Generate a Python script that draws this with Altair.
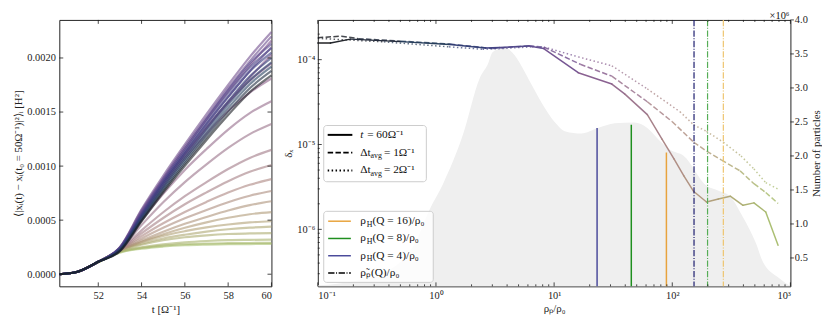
import altair as alt
import numpy as np
import pandas as pd

SERIF = "Liberation Serif"
INK = "#1a1a1a"

# ---------------- left panel: mean squared displacement curves ----------------
T = [50.2, 51, 52, 53, 54, 55, 56, 57, 58, 59, 60]
# log10(rho_p/rho_0) of the density bin each curve belongs to
CURVE_LR = [2.9, 2.8, 2.7, 2.6, 2.5, 2.4, 2.3, 2.2, 2.1, 2.0, 1.9, 1.8, 1.7, 1.6,
            1.5, 1.4, 1.3, 1.2, 1.1, 1.0, 0.9, 0.75, 0.6, 0.45, 0.3, 0.15, 0.0, -0.4, -0.8]
# values in units of 1e-4 H^2
CURVE_MSD = [
    [0, 0.2, 1.10, 2.00, 2.36, 2.56, 2.68, 2.74, 2.78, 2.79, 2.80],
    [0, 0.2, 1.10, 2.05, 2.43, 2.65, 2.77, 2.84, 2.87, 2.89, 2.90],
    [0, 0.2, 1.12, 2.10, 2.49, 2.76, 2.95, 3.07, 3.15, 3.18, 3.20],
    [0, 0.2, 1.12, 2.15, 2.73, 3.14, 3.42, 3.60, 3.72, 3.77, 3.80],
    [0, 0.2, 1.13, 2.20, 2.82, 3.30, 3.65, 3.94, 4.16, 4.31, 4.40],
    [0, 0.2, 1.13, 2.20, 2.96, 3.55, 3.98, 4.33, 4.60, 4.79, 4.90],
    [0, 0.2, 1.14, 2.22, 3.00, 3.70, 4.30, 4.80, 5.22, 5.55, 5.75],
    [0, 0.2, 1.14, 2.22, 3.11, 3.93, 4.66, 5.29, 5.89, 6.39, 6.75],
    [0, 0.2, 1.15, 2.23, 3.30, 4.29, 5.17, 5.94, 6.66, 7.26, 7.70],
    [0, 0.2, 1.15, 2.24, 3.52, 4.71, 5.76, 6.69, 7.55, 8.27, 8.80],
    [0, 0.2, 1.15, 2.25, 3.78, 5.20, 6.47, 7.57, 8.60, 9.47, 10.10],
    [0, 0.2, 1.15, 2.26, 4.06, 5.73, 7.22, 8.52, 9.73, 10.76, 11.50],
    [0, 0.2, 1.15, 2.28, 4.54, 6.65, 8.52, 10.16, 11.68, 12.96, 13.90],
    [0, 0.2, 1.15, 2.30, 4.96, 7.44, 9.65, 11.58, 13.38, 14.90, 16.00],
    [0, 0.2, 1.15, 2.35, 5.30, 8.10, 10.70, 13.00, 15.10, 16.80, 18.10],
    [0, 0.2, 1.15, 2.38, 5.50, 8.40, 11.10, 13.60, 15.90, 17.90, 19.50],
    [0, 0.2, 1.15, 2.40, 5.60, 8.40, 11.00, 13.50, 15.90, 18.20, 20.30],
    [0, 0.2, 1.15, 2.45, 5.80, 8.80, 11.60, 14.30, 16.90, 19.30, 21.60],
    [0, 0.2, 1.15, 2.50, 6.00, 9.10, 12.00, 14.80, 17.50, 20.10, 22.40],
    [0, 0.2, 1.15, 2.50, 5.90, 8.90, 11.80, 14.50, 17.20, 19.70, 22.00],
    [0, 0.2, 1.15, 2.45, 5.70, 8.60, 11.30, 13.90, 16.40, 18.80, 21.00],
    [0, 0.2, 1.15, 2.45, 5.64, 8.73, 11.61, 14.38, 17.04, 19.49, 21.30],
    [0, 0.2, 1.15, 2.40, 5.54, 8.57, 11.39, 14.11, 16.72, 19.12, 20.90],
    [0, 0.2, 1.15, 2.36, 5.43, 8.41, 11.17, 13.84, 16.40, 18.76, 20.50],
    [0, 0.2, 1.15, 2.30, 5.30, 8.20, 10.90, 13.50, 16.00, 18.30, 20.00],
    [0, 0.2, 1.15, 2.25, 5.19, 8.04, 10.68, 13.23, 15.68, 17.93, 19.60],
    [0, 0.2, 1.15, 2.21, 5.09, 7.87, 10.46, 12.96, 15.36, 17.57, 19.20],
    [0, 0.2, 1.15, 2.16, 4.98, 7.71, 10.25, 12.69, 15.04, 17.20, 18.80],
    [0, 0.2, 1.15, 2.12, 4.88, 7.54, 10.03, 12.42, 14.72, 16.84, 18.40],
]
LEFT_XTICKS = [52, 54, 56, 58, 60]
LEFT_YTICKS = [0.0, 0.0005, 0.0010, 0.0015, 0.0020]

# ---------------- right panel ----------------
RHO_SOLID = [0.1, 0.128, 0.189, 0.503, 1.315, 2.63, 3.44, 6.12, 8.17, 16.0, 30.8, 39.5,
             61.5, 82.1, 103.4, 125.3, 152, 195, 245.7, 309.5, 397, 491, 618, 786]
DELTA_SOLID = [1.57e-4, 1.57e-4, 1.746e-4, 1.632e-4, 1.506e-4, 1.371e-4, 1.39e-4, 1.447e-4,
               1.353e-4, 7.02e-5, 5.16e-5, 3.95e-5, 2.25e-5, 1.153e-5, 6.75e-6, 4.28e-6,
               2.79e-6, 2.10e-6, 2.28e-6, 2.46e-6, 1.92e-6, 2.05e-6, 1.60e-6, 6.48e-7]
RHO_DASH = [0.1, 0.1586, 0.22, 0.503, 1.315, 3.006, 6.12, 8.17, 16.65, 30.8, 61.5, 99.5,
            152, 195, 260, 375, 491, 618, 786]
DELTA_DASH = [1.816e-4, 1.891e-4, 1.769e-4, 1.654e-4, 1.527e-4, 1.353e-4, 1.455e-4, 1.409e-4,
              8.82e-5, 6.39e-5, 3.19e-5, 1.866e-5, 1.063e-5, 8.36e-6, 6.57e-6, 4.89e-6,
              3.45e-6, 2.72e-6, 2.02e-6]
RHO_DOT = [0.1, 0.3627, 1.29, 2.48, 3.64, 6.49, 8.83, 16.0, 30.8, 61.5, 116, 152, 195,
           270.5, 382, 491, 618, 786]
DELTA_DOT = [1.783e-4, 1.62e-4, 1.416e-4, 1.328e-4, 1.353e-4, 1.416e-4, 1.371e-4, 1.078e-4,
             8.47e-5, 4.52e-5, 2.44e-5, 1.70e-5, 1.428e-5, 1.063e-5, 7.31e-6, 5.16e-6,
             3.55e-6, 2.98e-6]
HIST_RHO = [0.1, 0.233, 0.503, 0.684, 0.878, 1.15, 1.69, 2.34, 2.78, 3.0, 3.44, 3.94, 4.42,
            6.49, 7.86, 10.1, 12.5, 16.97, 23.5, 32.6, 47.9, 61.5, 74.6, 95.8, 125.3, 195,
            246, 303.7, 397, 510, 584, 794, 1000]
HIST_N_MILLION = [0.097, 0.184, 0.445, 0.76, 1.20, 1.59, 2.31, 3.14, 3.37, 3.52, 3.575, 3.59,
                  3.52, 3.04, 2.78, 2.50, 2.36, 2.33, 2.41, 2.48, 2.49, 2.41, 2.26, 2.09, 2.0,
                  1.56, 1.49, 1.42, 1.10, 0.72, 0.445, 0.21, 0.087]
Q_LABELS = ["16", "8", "4"]
RHO_H = [89.2, 45.0, 23.1]
RHO_H_TOP_MILLION = [2.05, 2.46, 2.41]
RHO_P_TILDE = [270.5, 198.9, 152.8]
COUNT_TICKS_MILLION = [0.5, 1.0, 1.5, 2.0, 2.5, 3.0, 3.5, 4.0]
X_MAJOR = [0.1, 1, 10, 100, 1000]
Y_MAJOR = [1e-6, 1e-5, 1e-4]

# colours
STOP_LR = [-1.0, -0.5, 0.0, 0.4, 0.8, 1.2, 1.6, 2.0, 2.4, 2.8, 3.0]
STOP_COL = ["#141414", "#1b2436", "#243e5e", "#34397c", "#5b4a8e", "#7a4f8c",
            "#946a8a", "#ab8580", "#b0a074", "#a6b86a", "#aacb74"]
SOLID_Q_COL = ["#e8a33d", "#1f8f1f", "#4b4b9b"]
DD_Q_COL = ["#eec46e", "#55ad55", "#1c1c6e"]

color_scale = alt.Scale(domain=STOP_LR, range=STOP_COL, interpolate="rgb")
ONE = pd.DataFrame({"k": [0]})
TICK = dict(color=INK, strokeWidth=0.8)


def sup_expr(exps):
    sup = {"-": "⁻", "0": "⁰", "1": "¹", "2": "²", "3": "³", "4": "⁴",
           "5": "⁵", "6": "⁶", "7": "⁷", "8": "⁸", "9": "⁹"}
    expr = "''"
    for e in exps:
        lab = "10" + "".join(sup[c] for c in str(e))
        expr = f"round(log(datum.value)/LN10) == {e} ? '{lab}' : ({expr})"
    return expr


# ---------------- axes (shared by every layer that uses the scale) ----------------
AX_L_X = alt.Axis(values=LEFT_XTICKS, format="d", title="t [Ω⁻¹]", labelPadding=4, titlePadding=3)
AX_L_Y = alt.Axis(values=LEFT_YTICKS, format=".4f", title="⟨|xᵢ(t) − xᵢ(t₀ = 50Ω⁻¹)|²⟩ᵢ [H²]",
                  labelPadding=4, titlePadding=3)
AX_R_X = alt.Axis(values=X_MAJOR, labelExpr=sup_expr([-1, 0, 1, 2, 3]), title="ρₚ/ρ₀",
                  labelPadding=4, titlePadding=2)
AX_R_YD = alt.Axis(orient="left", values=Y_MAJOR, labelExpr=sup_expr([-6, -5, -4]), title="δₓ",
                   labelPadding=3, titlePadding=3)
AX_R_YN = alt.Axis(orient="right", values=[v * 1e6 for v in COUNT_TICKS_MILLION],
                   labelExpr="format(datum.value/1e6, '.1f')", title="Number of particles",
                   titleAngle=270, titleBaseline="top", labelPadding=4, titlePadding=3)


def hticks(values, field_scale, axis, length, h, top=True):
    df = pd.DataFrame({"v": values})
    b = alt.Chart(df).mark_rule(**TICK)
    out = [b.encode(x=alt.X("v:Q", scale=field_scale, axis=axis), y=alt.value(h), y2=alt.value(h - length))]
    if top:
        out.append(b.encode(x=alt.X("v:Q", scale=field_scale, axis=axis), y=alt.value(0), y2=alt.value(length)))
    return out


def vticks(values, field_scale, axis, x_a, x_b):
    df = pd.DataFrame({"v": values})
    return alt.Chart(df).mark_rule(**TICK).encode(
        y=alt.Y("v:Q", scale=field_scale, axis=axis), x=alt.value(x_a), x2=alt.value(x_b))


def txt(s, x, y, size=11.5, style="normal", align="left", baseline="middle"):
    return alt.Chart(ONE).mark_text(text=s, align=align, baseline=baseline, font=SERIF,
                                    fontSize=size, fontStyle=style, color="#111111").encode(
        x=alt.value(x), y=alt.value(y))


# ---------------- left chart ----------------
WL, HL = 215, 270
rows = []
for i, (lr, vals) in enumerate(zip(CURVE_LR, CURVE_MSD)):
    for t, v in zip(T, vals):
        rows.append({"cid": f"c{i:02d}", "t": t, "msd": v * 1e-4, "lr": lr})
left_df = pd.DataFrame(rows)

xs_l = alt.Scale(domain=[50.2, 60], nice=False, zero=False)
ys_l = alt.Scale(domain=[-0.000112, 0.002352], nice=False, zero=False)

curves = alt.Chart(left_df).mark_line(interpolate="monotone", strokeWidth=2.2, opacity=0.6).encode(
    x=alt.X("t:Q", scale=xs_l, axis=AX_L_X),
    y=alt.Y("msd:Q", scale=ys_l, axis=AX_L_Y),
    color=alt.Color("lr:Q", scale=color_scale, legend=None),
    detail="cid:N",
)
left_layers = [curves] + hticks(LEFT_XTICKS, xs_l, AX_L_X, 4, HL) + [
    vticks(LEFT_YTICKS, ys_l, AX_L_Y, 0, 4), vticks(LEFT_YTICKS, ys_l, AX_L_Y, WL, WL - 4)]
left = alt.layer(*left_layers).properties(width=WL, height=HL)

# ---------------- right chart ----------------
WR, HR = 479, 270
xs = alt.Scale(type="log", domain=[0.1, 1000], nice=False)
ys_d = alt.Scale(type="log", domain=[2.13e-7, 2.94e-4], nice=False)
ys_n = alt.Scale(domain=[0.083e6, 4.0e6], nice=False, zero=False)

hist_df = pd.DataFrame({"rho": HIST_RHO, "n": [v * 1e6 for v in HIST_N_MILLION]})
area = alt.Chart(hist_df).mark_area(color="#efefef", interpolate="monotone", clip=True).encode(
    x=alt.X("rho:Q", scale=xs, axis=AX_R_X),
    y=alt.Y("n:Q", scale=ys_n, axis=AX_R_YN),
)
count_layers = [area]
for q, rh, top, col in zip(Q_LABELS, RHO_H, RHO_H_TOP_MILLION, SOLID_Q_COL):
    d = pd.DataFrame({"rho": [rh], "n": [top * 1e6], "base": [0.0]})
    count_layers.append(alt.Chart(d).mark_rule(color=col, strokeWidth=1.5, clip=True).encode(
        x=alt.X("rho:Q", scale=xs, axis=AX_R_X), y=alt.Y("n:Q", scale=ys_n, axis=AX_R_YN), y2="base:Q"))
count_df = pd.DataFrame({"v": [v * 1e6 for v in COUNT_TICKS_MILLION]})
count_layers.append(alt.Chart(count_df).mark_rule(**TICK).encode(
    y=alt.Y("v:Q", scale=ys_n, axis=AX_R_YN), x=alt.value(WR), x2=alt.value(WR + 3.5)))
counts_layer = alt.layer(*count_layers)


def segments(rho, delta):
    rho = np.asarray(rho, float)
    delta = np.asarray(delta, float)
    lr = np.log10(rho)
    return pd.DataFrame({"x": rho[:-1], "x2": rho[1:], "y": delta[:-1], "y2": delta[1:],
                         "lr": (lr[:-1] + lr[1:]) / 2})


delta_layers = []
for rho, dl, dash, op in [(RHO_DOT, DELTA_DOT, [1.5, 2.5], 0.7),
                          (RHO_DASH, DELTA_DASH, [5.5, 2.4], 0.8),
                          (RHO_SOLID, DELTA_SOLID, None, 0.95)]:
    kw = dict(strokeWidth=1.5, opacity=op)
    if dash:
        kw["strokeDash"] = dash
    else:
        kw["strokeCap"] = "round"
    delta_layers.append(alt.Chart(segments(rho, dl)).mark_rule(**kw).encode(
        x=alt.X("x:Q", scale=xs, axis=AX_R_X), x2="x2:Q",
        y=alt.Y("y:Q", scale=ys_d, axis=AX_R_YD), y2="y2:Q",
        color=alt.Color("lr:Q", scale=color_scale, legend=None)))

for q, rp, col in zip(Q_LABELS, RHO_P_TILDE, DD_Q_COL):
    d = pd.DataFrame({"rho": [rp]})
    delta_layers.append(alt.Chart(d).mark_rule(color=col, strokeWidth=1.2,
                                               strokeDash=[6.4, 1.6, 1.0, 1.6]).encode(
        x=alt.X("rho:Q", scale=xs, axis=AX_R_X), y=alt.value(0), y2=alt.value(HR)))

# ticks (inward, major + minor)
x_minor = [m * 10.0 ** k for k in range(-1, 3) for m in range(2, 10)]
y_minor = [m * 10.0 ** k for k in range(-7, -3) for m in range(2, 10) if 2.13e-7 < m * 10.0 ** k < 2.94e-4]
delta_layers += hticks(X_MAJOR, xs, AX_R_X, 4, HR) + hticks(x_minor, xs, AX_R_X, 2, HR)
delta_layers += [vticks(Y_MAJOR, ys_d, AX_R_YD, 0, 4), vticks(y_minor, ys_d, AX_R_YD, 0, 2)]
delta_layers.append(txt("×10⁶", WR - 1, -1, size=10.5, align="right", baseline="alphabetic"))

# legend 1: line styles
delta_layers.append(alt.Chart(ONE).mark_rect(fill="white", fillOpacity=0.8, stroke="#cccccc",
                                             strokeWidth=1, cornerRadius=3).encode(
    x=alt.value(6), x2=alt.value(110), y=alt.value(107), y2=alt.value(164)))
L1_Y = [116.5, 134.5, 152.5]
L1_DASH = [None, [5.5, 2.4], [1.5, 2.5]]
for yy, dash in zip(L1_Y, L1_DASH):
    kw = dict(color="black", strokeWidth=2)
    if dash:
        kw["strokeDash"] = dash
    delta_layers.append(alt.Chart(ONE).mark_rule(**kw).encode(
        x=alt.value(10), x2=alt.value(35), y=alt.value(yy)))
delta_layers += [txt("t", 43, L1_Y[0], style="italic"), txt("= 60Ω⁻¹", 50, L1_Y[0])]
for yy, n in zip(L1_Y[1:], ["1", "2"]):
    delta_layers += [txt("Δt", 43, yy), txt("avg", 53.5, yy + 3.5, size=8),
                     txt(f"= {n}Ω⁻¹", 67, yy)]

# legend 2: characteristic densities
delta_layers.append(alt.Chart(ONE).mark_rect(fill="white", fillOpacity=0.8, stroke="#cccccc",
                                             strokeWidth=1, cornerRadius=3).encode(
    x=alt.value(6), x2=alt.value(117), y=alt.value(194), y2=alt.value(266)))
L2_Y = [204, 221.5, 239, 256.5]
for yy, col, q in zip(L2_Y[:3], SOLID_Q_COL, Q_LABELS):
    delta_layers.append(alt.Chart(ONE).mark_rule(color=col, strokeWidth=1.5).encode(
        x=alt.value(10.5), x2=alt.value(33.5), y=alt.value(yy)))
    delta_layers += [txt("ρ", 43, yy), txt("H", 49.5, yy + 3.5, size=8),
                     txt(f"(Q = {q})/ρ₀", 55.5, yy)]
delta_layers.append(alt.Chart(ONE).mark_rule(color="black", strokeWidth=1.5,
                                             strokeDash=[6.4, 1.6, 1.0, 1.6]).encode(
    x=alt.value(10.5), x2=alt.value(33.5), y=alt.value(L2_Y[3])))
delta_layers.append(txt("ρ̃ₚ(Q)/ρ₀", 43, L2_Y[3]))

delta_layer = alt.layer(*delta_layers)
right = alt.layer(counts_layer, delta_layer).resolve_scale(y="independent").properties(
    width=WR, height=HR)

chart = alt.hconcat(left, right, spacing=47, bounds="flush").properties(
    padding={"left": 4, "top": 0, "right": 0, "bottom": 0}
).configure_view(stroke="#222222", strokeWidth=1).configure_axis(
    domain=False, ticks=False, grid=False, labelFont=SERIF, titleFont=SERIF,
    labelFontSize=10.5, titleFontSize=11, labelColor="#222222", titleColor="#222222",
    titleFontWeight="normal")

chart.save("out.html", embed_options={"renderer": "svg", "actions": False})
